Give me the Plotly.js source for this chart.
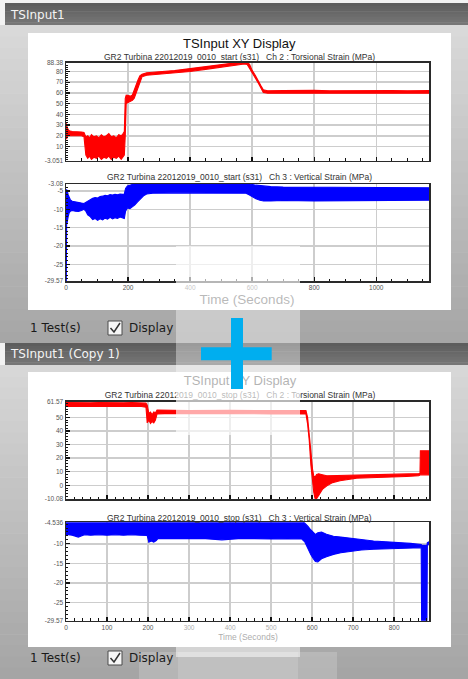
<!DOCTYPE html>
<html>
<head>
<meta charset="utf-8">
<script src="https://cdn.plot.ly/plotly-3.0.1.min.js"></script>
<style>
  html, body { margin: 0; padding: 0; background: #ffffff; overflow: hidden; }
  #chart { width: 468px; height: 679px; }
</style>
</head>
<body>
<div id="chart"></div>
<script>
// ---------------------------------------------------------------------------
// Recorded strain envelopes (time in seconds, strain in MPa).
// Each channel is stored as the lower and upper edge of its noise band.
// ---------------------------------------------------------------------------

// Test "start" - Ch 2 : Torsional Strain
const startTorsT  = [0, 2, 5, 9, 14, 20, 30, 40, 50, 58, 61, 64, 70, 76, 82, 90, 98, 106, 114, 122, 130, 138, 146, 154, 162, 170, 178, 184, 188, 191, 194, 200, 208, 214, 220, 226, 232, 238, 245, 260, 300, 350, 400, 450, 500, 540, 560, 575, 584, 592, 600, 610, 620, 628, 636, 650, 700, 750, 800, 850, 900, 950, 1000, 1050, 1100, 1140, 1170];
const startTorsLo = [19, 17, 20, 20, 20.5, 20.5, 20.5, 20, 20, 19, 10, 2, -1, 1, -2, 0, -1, 1, -2, 0, -1, 1, -2, 0, -1, 1, -2, 0, 2, 20, 50, 51, 52, 53, 55, 60, 66, 71, 75, 76.5, 77.5, 78.3, 80, 82, 84, 85.5, 86.5, 87, 86.5, 83, 78.5, 74, 69, 65, 60.5, 59.8, 59.8, 59.8, 59.5, 59.7, 59.8, 59.6, 59.8, 59.7, 59.8, 59.7, 59.8];
const startTorsHi = [32, 30, 27, 25, 24.5, 24, 24, 23.5, 23.5, 23, 22, 19, 20, 18, 21, 19, 20, 18, 21, 19, 20, 22, 19, 20, 18, 21, 20, 22, 24, 55, 58, 57.5, 57, 58, 62, 67, 72, 76, 77.5, 78.8, 79.8, 80.8, 82.3, 84.2, 86.2, 87.8, 89, 89, 89, 86.5, 81, 76.5, 71.5, 67, 63, 62, 62.2, 62, 62.4, 62, 62.1, 62.3, 62, 62.2, 62, 62.3, 62.1];

// Test "start" - Ch 3 : Vertical Strain
const startVertT  = [0, 1, 2, 4, 7, 10, 14, 20, 30, 40, 50, 58, 64, 70, 78, 86, 94, 102, 110, 118, 126, 134, 142, 150, 158, 166, 174, 182, 188, 192, 198, 206, 214, 222, 230, 240, 250, 260, 280, 350, 450, 550, 580, 590, 600, 612, 625, 637, 660, 700, 800, 900, 1000, 1100, 1170];
const startVertLo = [-29.6, -29.6, -14, -13.5, -12, -11, -10.5, -10.3, -10.5, -10.6, -10.3, -10, -10.5, -11.5, -12, -12.8, -12.5, -13, -12.6, -12.9, -12.4, -12.7, -12.2, -12.6, -12.3, -12.5, -12.1, -12.4, -12.5, -10.5, -9.6, -9.8, -9.3, -8.8, -8, -7.2, -6.3, -5.8, -5.6, -5.5, -5.6, -5.5, -5.6, -6, -6.6, -7.1, -7.5, -7.7, -7.7, -7.6, -7.7, -7.6, -7.5, -7.6, -7.5];
const startVertHi = [-5, -4.8, -4.6, -5, -6, -6.8, -7.4, -7.8, -8, -8.2, -8.3, -8.4, -8.2, -7.8, -7.4, -7, -6.8, -6.9, -6.5, -6.4, -6.2, -6.3, -6, -6.1, -5.9, -6, -5.8, -5.9, -5.8, -4.3, -3.6, -3.4, -3.2, -2.9, -2.9, -2.9, -2.9, -2.9, -2.9, -2.9, -2.9, -2.9, -2.9, -3.0, -3.2, -3.4, -3.6, -3.7, -3.8, -3.9, -3.9, -4, -4, -4.1, -4.1];

// Test "stop" - Ch 2 : Torsional Strain
const stopTorsT  = [0, 20, 40, 60, 80, 100, 120, 140, 160, 180, 195, 198, 202, 206, 210, 214, 218, 222, 240, 300, 400, 500, 560, 585, 589, 593, 597, 601, 604, 607, 611, 616, 625, 636, 650, 668, 690, 709, 740, 770, 800, 830, 860, 863, 864, 885];
const stopTorsLo = [58, 58.2, 58, 58.2, 58, 58.3, 58, 58.2, 58, 58.2, 57.5, 46, 48, 45.5, 47, 46, 48, 52.6, 52.8, 52.6, 52.8, 52.6, 52.8, 52.5, 45, 33, 15, 2, -5, -9.5, -9.8, -7.4, -3, -0.4, 2, 3.4, 4.5, 5.3, 5.6, 5.8, 6, 6.5, 7, 7.4, 7.7, 7.7];
const stopTorsHi = [61, 60.8, 61, 60.8, 61, 60.9, 61, 60.8, 61, 60.9, 60.5, 59, 53, 54, 52, 54, 53.5, 55.5, 55.2, 55, 55.2, 55, 55.1, 55, 50, 40, 25, 12, 7, 6, 8, 8.5, 7.8, 7, 7.2, 7.5, 7.6, 7.8, 8, 8, 8.2, 8.4, 8.6, 8.8, 25.4, 25.4];

// Test "stop" - Ch 3 : Vertical Strain
const stopVertT  = [0, 15, 30, 45, 60, 80, 100, 120, 140, 160, 180, 198, 202, 208, 214, 220, 224, 260, 300, 340, 380, 420, 460, 500, 540, 575, 582, 590, 597, 603, 608, 614, 623, 635, 652, 670, 693, 720, 750, 780, 810, 840, 855, 866, 867, 880, 881, 885];
const stopVertLo = [-7.6, -7.8, -8.3, -7.7, -7.8, -7.7, -7.8, -7.7, -7.8, -7.7, -7.8, -7.9, -9.6, -9.3, -9.6, -9.2, -8.7, -8.7, -8.6, -8.7, -9.0, -8.7, -8.7, -8.8, -8.7, -8.8, -9.5, -11.5, -12.8, -13.8, -14.5, -14.6, -13.8, -13.3, -12.7, -12.3, -11.9, -11.6, -11.4, -11.3, -11.2, -11.1, -11, -11, -29.6, -29.6, -10.3, -10.2];
const stopVertHi = [-4, -4, -4, -4, -4, -4, -4, -4, -4, -4, -4, -4, -4, -4, -4, -4, -4, -4, -4, -4, -4, -4, -4, -4, -4, -4, -4.6, -5.6, -6.5, -7.2, -7.6, -7.2, -7.0, -7.6, -8.1, -8.3, -8.5, -8.9, -9.3, -9.5, -9.7, -9.9, -10, -10.2, -10.4, -10.4, -9.7, -9.5];

// Axis ranges and tick labels
const startTorsRange = [-3.051, 88.38];
const startTorsTicks = [-3.051, 10, 20, 30, 40, 50, 60, 70, 80, 88.38];
const startTorsLabels = ['-3.051', '10', '20', '30', '40', '50', '60', '70', '80', '88.38'];
const startVertRange = [-29.57, -3.08];
const startVertTicks = [-29.57, -25, -20, -15, -10, -5, -3.08];
const startVertLabels = ['-29.57', '-25', '-20', '-15', '-10', '-5', '-3.08'];
const stopTorsRange = [-10.08, 61.57];
const stopTorsTicks = [-10.08, 0, 10, 20, 30, 40, 50, 61.57];
const stopTorsLabels = ['-10.08', '0', '10', '20', '30', '40', '50', '61.57'];
const stopVertRange = [-29.57, -4.536];
const stopVertTicks = [-29.57, -25, -20, -15, -10, -4.536];
const stopVertLabels = ['-29.57', '-25', '-20', '-15', '-10', '-4.536'];
const startTimeRange = [0, 1170];
const stopTimeRange = [0, 885];

// Texts
const panelTitles = ['TSInput1', 'TSInput1 (Copy 1)'];
const chartTitle = 'TSInput XY Display';
const startTorsTitle = 'GR2 Turbina 22012019_0010_start (s31)   Ch 2 : Torsional Strain (MPa)';
const startVertTitle = 'GR2 Turbina 22012019_0010_start (s31)   Ch 3 : Vertical Strain (MPa)';
const stopTorsTitle = 'GR2 Turbina 22012019_0010_stop (s31)   Ch 2 : Torsional Strain (MPa)';
const stopVertTitle = 'GR2 Turbina 22012019_0010_stop (s31)   Ch 3 : Vertical Strain (MPa)';
const timeTitle = 'Time (Seconds)';
const testCount = '1 Test(s)';
const displayLabel = 'Display';

const RED = '#ff0000';
const BLUE = '#0000ff';
const FONT = 'Liberation Sans, Arial, sans-serif';
const UIFONT = 'DejaVu Sans, Verdana, sans-serif';

// ---------------------------------------------------------------------------
// Page geometry helpers (pixel -> paper)
// ---------------------------------------------------------------------------
const W = 468, H = 679;
const X = px => px / W;
const Y = py => 1 - py / H;
const xdom = (a, b) => [X(a), X(b)];
const ydom = (top, bottom) => [Y(bottom), Y(top)];

function rect(x0, y0, x1, y1, fill, layer, line) {
  return {
    type: 'rect', xref: 'paper', yref: 'paper', layer: layer || 'below',
    x0: X(x0), x1: X(x1), y0: Y(y0), y1: Y(y1),
    fillcolor: fill,
    line: line || { width: 0 }
  };
}

function mix(c0, c1, f) {
  const a = parseInt(c0.slice(1), 16), b = parseInt(c1.slice(1), 16);
  const ch = s => Math.round(((a >> s) & 255) * (1 - f) + ((b >> s) & 255) * f);
  return 'rgb(' + ch(16) + ',' + ch(8) + ',' + ch(0) + ')';
}

function gradient(x0, y0, x1, y1, c0, c1, n) {
  const out = [];
  const step = (y1 - y0) / n;
  for (let i = 0; i < n; i++) {
    const a = y0 + i * step;
    out.push(rect(x0, a, x1, Math.min(y1, a + step + 0.6), mix(c0, c1, i / (n - 1))));
  }
  return out;
}

// ---------------------------------------------------------------------------
// Traces
// ---------------------------------------------------------------------------
function band(t, lo, hi, color, xa, ya) {
  return {
    type: 'scatter', mode: 'lines',
    x: t.concat(t.slice().reverse()),
    y: lo.concat(hi.slice().reverse()),
    xaxis: xa, yaxis: ya,
    fill: 'toself', fillcolor: color,
    line: { color: color, width: 1.1 },
    hoverinfo: 'skip'
  };
}

const traces = [
  band(startTorsT, startTorsLo, startTorsHi, RED, 'x', 'y'),
  band(startVertT, startVertLo, startVertHi, BLUE, 'x2', 'y2'),
  band(stopTorsT, stopTorsLo, stopTorsHi, RED, 'x3', 'y3'),
  band(stopVertT, stopVertLo, stopVertHi, BLUE, 'x4', 'y4'),
  // Page-level texts that sit underneath the drag preview
  {
    type: 'scatter', mode: 'text', xaxis: 'x5', yaxis: 'y5',
    x: [247, 240, 240, 248],
    y: [301, 382, 395.5, 638],
    text: [timeTitle, chartTitle, stopTorsTitle, timeTitle],
    textposition: 'middle center',
    textfont: { family: FONT, size: [13.5, 13, 8.5, 8.5], color: ['#333333', '#222222', '#333333', '#555555'] },
    hoverinfo: 'skip', cliponaxis: false
  }
];

// ---------------------------------------------------------------------------
// Axes
// ---------------------------------------------------------------------------
const common = {
  showline: true, mirror: true, linecolor: '#2a2a2a', linewidth: 1.5,
  showgrid: true, gridcolor: '#cdcdcd', gridwidth: 1.5,
  zeroline: false, fixedrange: true,
  ticks: 'inside', ticklen: 4, tickwidth: 1.4, tickcolor: '#111111',
  tickfont: { family: FONT, size: 6.5, color: '#555555' }
};

function timeAxis(domain, anchor, range, dtick, minor, labels) {
  return Object.assign({}, common, {
    domain, anchor, range, tickmode: 'linear', tick0: 0, dtick,
    showticklabels: labels,
    minor: { tickmode: 'linear', tick0: 0, dtick: minor, ticks: 'inside', ticklen: 2.5, tickwidth: 1, tickcolor: '#111111', showgrid: false }
  });
}

function valueAxis(domain, anchor, range, vals, text, minor) {
  return Object.assign({}, common, {
    domain, anchor, range, tickmode: 'array', tickvals: vals, ticktext: text,
    minor: { tickmode: 'linear', tick0: 0, dtick: minor, ticks: 'inside', ticklen: 2, tickwidth: 1, tickcolor: '#111111', showgrid: false }
  });
}

const plotX = xdom(66, 429);

// ---------------------------------------------------------------------------
// Window chrome
// ---------------------------------------------------------------------------
const shapes = [].concat(
  [rect(0, 0, 468, 679, '#f2f2f2')],
  gradient(0, 25, 468, 343, '#d9d9d9', '#a6a6a6', 28),
  gradient(0, 365, 468, 679, '#d7d7d7', '#a5a5a5', 28),
  gradient(5, 3, 468, 25, '#5d5d5d', '#767676', 8),
  gradient(5, 343, 468, 365, '#5d5d5d', '#767676', 8),
  [
    rect(28, 33, 451, 310, '#ffffff'),
    rect(28, 372, 451, 647, '#ffffff'),
    // "Display" check boxes
    rect(108, 321, 122, 335, '#f6f6f6', 'below', { color: '#4a4a4a', width: 1 }),
    rect(108, 651, 122, 665, '#f6f6f6', 'below', { color: '#4a4a4a', width: 1 }),
    { type: 'path', xref: 'paper', yref: 'paper', layer: 'below',
      path: 'M' + X(110.5) + ',' + Y(328) + ' L' + X(114) + ',' + Y(332) + ' L' + X(120) + ',' + Y(323),
      line: { color: '#333333', width: 1.5 } },
    { type: 'path', xref: 'paper', yref: 'paper', layer: 'below',
      path: 'M' + X(110.5) + ',' + Y(658) + ' L' + X(114) + ',' + Y(662) + ' L' + X(120) + ',' + Y(653),
      line: { color: '#333333', width: 1.5 } },
    // drag preview (translucent) with the drop cross
    rect(176, 246, 300, 435, 'rgba(255,255,255,0.38)', 'above'),
    rect(176, 246, 300, 310, 'rgba(255,255,255,0.45)', 'above'),
    rect(176, 372, 300, 435, 'rgba(255,255,255,0.45)', 'above'),
    rect(176, 623, 300, 657, 'rgba(255,255,255,0.5)', 'above'),
    rect(139, 652, 337, 679, 'rgba(255,255,255,0.18)', 'above'),
    rect(178, 652, 298, 679, 'rgba(255,255,255,0.15)', 'above'),
    rect(231, 318, 243, 389, '#00aeef', 'above'),
    rect(201, 347.3, 271.7, 360.3, '#00aeef', 'above')
  ]
);

function note(text, x, y, size, color, anchor, family) {
  return {
    text, xref: 'paper', yref: 'paper', x: X(x), y: Y(y),
    xanchor: anchor || 'center', yanchor: 'middle', showarrow: false,
    font: { family: family || FONT, size, color }
  };
}

const annotations = [
  note(panelTitles[0], 8, 14.5, 12, '#f4f4f4', 'left', UIFONT),
  note(panelTitles[1], 8, 354, 12, '#f4f4f4', 'left', UIFONT),
  note(chartTitle, 240, 43, 13, '#111111'),
  note(startTorsTitle, 240, 56.5, 8.5, '#333333'),
  note(startVertTitle, 240, 177.5, 8.5, '#333333'),
  note(stopVertTitle, 240, 517.5, 8.5, '#333333'),
  note(testCount, 28, 328, 12, '#1a1a1a', 'left', UIFONT),
  note(displayLabel, 127, 328, 12, '#1a1a1a', 'left', UIFONT),
  note(testCount, 28, 658, 12, '#1a1a1a', 'left', UIFONT),
  note(displayLabel, 127, 658, 12, '#1a1a1a', 'left', UIFONT)
];

const layout = {
  width: W, height: H,
  margin: { l: 0, r: 0, t: 0, b: 0 },
  paper_bgcolor: '#f2f2f2',
  plot_bgcolor: 'rgba(0,0,0,0)',
  showlegend: false,
  xaxis:  timeAxis(plotX, 'y',  startTimeRange, 200, 50, false),
  yaxis:  valueAxis(ydom(62.5, 160.5), 'x', startTorsRange, startTorsTicks, startTorsLabels, 2),
  xaxis2: timeAxis(plotX, 'y2', startTimeRange, 200, 50, true),
  yaxis2: valueAxis(ydom(184, 281), 'x2', startVertRange, startVertTicks, startVertLabels, 1),
  xaxis3: timeAxis(plotX, 'y3', stopTimeRange, 100, 20, false),
  yaxis3: valueAxis(ydom(401.7, 499), 'x3', stopTorsRange, stopTorsTicks, stopTorsLabels, 2),
  xaxis4: timeAxis(plotX, 'y4', stopTimeRange, 100, 20, true),
  yaxis4: valueAxis(ydom(522.3, 620.7), 'x4', stopVertRange, stopVertTicks, stopVertLabels, 1),
  xaxis5: { domain: [0, 1], anchor: 'y5', range: [0, W], visible: false, fixedrange: true },
  yaxis5: { domain: [0, 1], anchor: 'x5', range: [H, 0], visible: false, fixedrange: true },
  shapes,
  annotations
};

Plotly.newPlot('chart', traces, layout, { staticPlot: true, displayModeBar: false });
</script>
</body>
</html>
